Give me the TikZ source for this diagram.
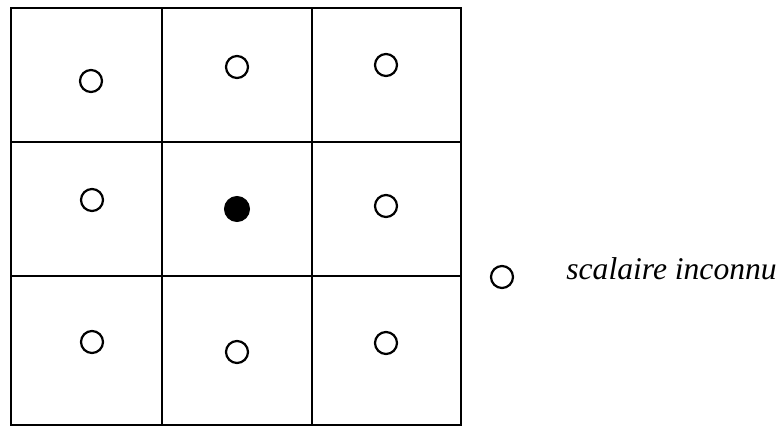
\documentclass[tikz,border=0pt]{standalone}
\usepackage{fontspec}
\setmainfont{Liberation Serif}
\usepackage{tikz}
\usetikzlibrary{positioning}

\begin{document}
\begin{tikzpicture}[
  x=0.5pt, y=-0.5pt,
  grid/.style={line width=0.85pt, draw=black},
  unknown/.style={circle, draw, line width=1.1pt, minimum size=11pt, inner sep=0pt},
  known/.style={circle, draw, fill=black, line width=0.5pt, minimum size=12.5pt, inner sep=0pt},
  legend/.style={font=\fontsize{15.8}{19}\selectfont\itshape, inner sep=0pt}
]
\useasboundingbox (0,0) rectangle (784,429);
% mesh
\draw[grid] (11,8) rectangle (461,425);
\draw[grid] (162,8) -- (162,425);
\draw[grid] (312,8) -- (312,425);
\draw[grid] (11,142) -- (461,142);
\draw[grid] (11,276) -- (461,276);
% unknowns
\node[unknown] (u11) at (91,81) {};
\node[unknown] (u12) at (237,67) {};
\node[unknown] (u13) at (386,65) {};
\node[unknown] (u21) at (92,200) {};
\node[known]   (u22) at (237,209) {};
\node[unknown] (u23) at (386,206) {};
\node[unknown] (u31) at (92,342) {};
\node[unknown] (u32) at (237,352) {};
\node[unknown] (u33) at (386,343) {};
% legend
\node[unknown] (key) at (502,277) {};
\node[legend, anchor=base west] (keytext) at (566,279) {scalaire inconnu};
\end{tikzpicture}
\end{document}
